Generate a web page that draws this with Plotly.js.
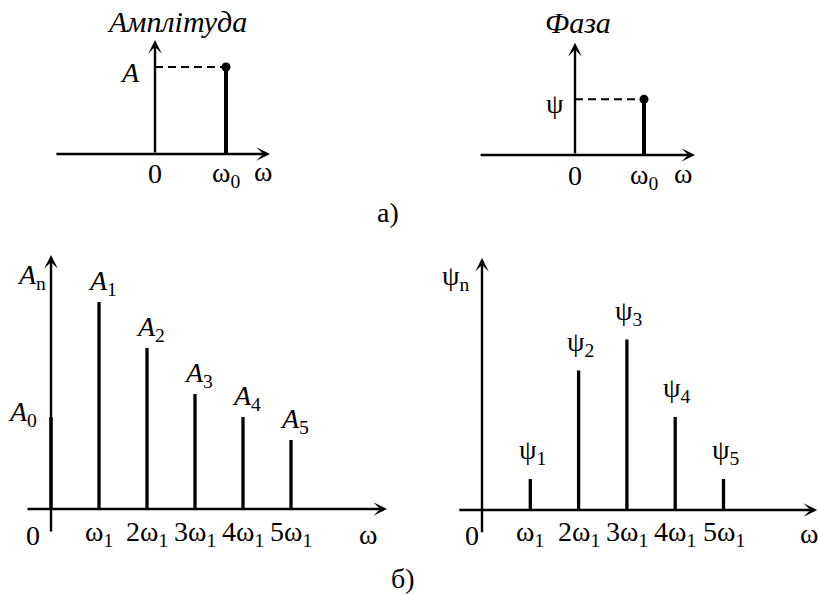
<!DOCTYPE html>
<html>
<head>
<meta charset="utf-8">
<script src="https://cdn.plot.ly/plotly-3.0.1.min.js"></script>
<style>
  html, body { margin: 0; padding: 0; background: #fff; }
  #chart { width: 818px; height: 595px; }
</style>
</head>
<body>
<div id="chart"></div>
<script>
// а) a single harmonic: amplitude and initial phase at ω0
const harmonicOmega = [1];
const harmonicAmp = [1];
const harmonicPhase = [0.64];
const singleTickLabels = ['0', 'ω<sub>0</sub>'];
const ampLabel = '<i>A</i>';
const phaseLabel = 'ψ';

// б) line spectrum of a periodic signal
const harmonicNumbers = [1, 2, 3, 4, 5];
const amplitudeA0 = [4];
const amplitudes = [9, 7, 5, 4, 3];
const phases = [1, 4.5, 5.5, 3, 1];
const freqLabels = ['ω<sub>1</sub>', '2ω<sub>1</sub>', '3ω<sub>1</sub>', '4ω<sub>1</sub>', '5ω<sub>1</sub>'];
const ampLabels = ['<i>A</i><sub>1</sub>', '<i>A</i><sub>2</sub>', '<i>A</i><sub>3</sub>', '<i>A</i><sub>4</sub>', '<i>A</i><sub>5</sub>'];
const phaseLabels = ['ψ<sub>1</sub>', 'ψ<sub>2</sub>', 'ψ<sub>3</sub>', 'ψ<sub>4</sub>', 'ψ<sub>5</sub>'];

const W = 818, H = 595;
const FONT = 'Liberation Serif';
const FS = 28;
const INK = '#000';

// Axis pair for one panel: pixel box, pixel origin and pixels per unit
function frame(px0, px1, py0, py1, ox, oy, sx, sy, id) {
  const common = { showgrid: false, zeroline: false, showticklabels: false, showline: false,
                   ticks: '', fixedrange: true };
  return {
    x: Object.assign({}, common, { domain: [px0 / W, px1 / W], range: [(px0 - ox) / sx, (px1 - ox) / sx], anchor: 'y' + id }),
    y: Object.assign({}, common, { domain: [1 - py1 / H, 1 - py0 / H], range: [(oy - py1) / sy, (oy - py0) / sy], anchor: 'x' + id })
  };
}

const f1 = frame(0, 310, 0, 200, 155, 154, 71, 87, '');
const f2 = frame(410, 818, 0, 200, 575, 155, 69, 87, '2');
const f3 = frame(0, 409, 230, 595, 51, 509, 48, 23, '3');
const f4 = frame(410, 818, 230, 595, 482, 510, 48.3, 31, '4');

function stems(xs, ys) {
  const x = [], y = [];
  xs.forEach((v, i) => { x.push(v, v, null); y.push(0, ys[i], null); });
  return { x, y };
}

function stemTrace(xs, ys, w, xa, ya) {
  const s = stems(xs, ys);
  return { type: 'scatter', mode: 'lines', x: s.x, y: s.y, xaxis: xa, yaxis: ya,
           line: { color: INK, width: w }, hoverinfo: 'skip', showlegend: false };
}

const traces = [
  // amplitude of one harmonic
  stemTrace(harmonicOmega, harmonicAmp, 4, 'x', 'y'),
  { type: 'scatter', mode: 'lines', x: [0, harmonicOmega[0]], y: [harmonicAmp[0], harmonicAmp[0]],
    xaxis: 'x', yaxis: 'y', line: { color: INK, width: 2, dash: '8px,5px' }, showlegend: false, hoverinfo: 'skip' },
  { type: 'scatter', mode: 'markers', x: harmonicOmega, y: harmonicAmp, xaxis: 'x', yaxis: 'y',
    marker: { color: INK, size: 9 }, showlegend: false, hoverinfo: 'skip' },
  // phase of one harmonic
  stemTrace(harmonicOmega, harmonicPhase, 4, 'x2', 'y2'),
  { type: 'scatter', mode: 'lines', x: [0, harmonicOmega[0]], y: [harmonicPhase[0], harmonicPhase[0]],
    xaxis: 'x2', yaxis: 'y2', line: { color: INK, width: 2, dash: '8px,5px' }, showlegend: false, hoverinfo: 'skip' },
  { type: 'scatter', mode: 'markers', x: harmonicOmega, y: harmonicPhase, xaxis: 'x2', yaxis: 'y2',
    marker: { color: INK, size: 9 }, showlegend: false, hoverinfo: 'skip' },
  // amplitude spectrum
  stemTrace([0], amplitudeA0, 3.5, 'x3', 'y3'),
  stemTrace(harmonicNumbers, amplitudes, 3.3, 'x3', 'y3'),
  // phase spectrum
  stemTrace(harmonicNumbers, phases, 3.3, 'x4', 'y4')
];

const annotations = [];
const txt = (o) => annotations.push(Object.assign({ showarrow: false, xanchor: 'center', yanchor: 'middle',
  font: { family: FONT, size: FS, color: INK } }, o));
function arrow(id, x0, y0, x1, y1) {
  annotations.push({ xref: 'x' + id, yref: 'y' + id, axref: 'x' + id, ayref: 'y' + id,
    x: x1, y: y1, ax: x0, ay: y0, text: '', showarrow: true,
    arrowhead: 3, arrowsize: 0.95, arrowwidth: 2.4, arrowcolor: INK, standoff: 0, startstandoff: 0 });
}

// coordinate axes with arrowheads
arrow('', -1.41, 0, 1.62, 0);
arrow('', 0, 0, 0, 1.31);
arrow('2', -1.39, 0, 1.74, 0);
arrow('2', 0, 0, 0, 1.29);
arrow('3', -0.52, 0, 7.0, 0);
arrow('3', 0, -1.04, 0, 11.04);
arrow('4', -0.5, 0, 6.94, 0);
arrow('4', 0, -0.77, 0, 8.13);

// а) labels
txt({ xref: 'paper', yref: 'paper', x: 177 / W, y: 1 - 22 / H, text: '<i>Амплітуда</i>', font: { family: FONT, size: 30, color: INK } });
txt({ xref: 'paper', yref: 'paper', x: 578 / W, y: 1 - 23 / H, text: '<i>Фаза</i>', font: { family: FONT, size: 30, color: INK } });
txt({ xref: 'x', yref: 'y', x: 0, y: 0, yshift: -19, text: singleTickLabels[0] });
txt({ xref: 'x', yref: 'y', x: harmonicOmega[0], y: 0, yshift: -20, text: singleTickLabels[1] });
txt({ xref: 'x', yref: 'y', x: 1.52, y: 0, yshift: -17, text: 'ω' });
txt({ xref: 'x', yref: 'y', x: 0, y: harmonicAmp[0], xanchor: 'right', xshift: -13, yshift: -5, text: ampLabel });
txt({ xref: 'x2', yref: 'y2', x: 0, y: 0, yshift: -20, text: singleTickLabels[0] });
txt({ xref: 'x2', yref: 'y2', x: harmonicOmega[0], y: 0, yshift: -21, text: singleTickLabels[1] });
txt({ xref: 'x2', yref: 'y2', x: 1.57, y: 0, yshift: -18, text: 'ω' });
txt({ xref: 'x2', yref: 'y2', x: 0, y: harmonicPhase[0], xanchor: 'right', xshift: -9, yshift: -4, text: phaseLabel });
txt({ xref: 'paper', yref: 'paper', x: 388 / W, y: 1 - 212 / H, text: 'а)' });

// б) amplitude spectrum labels
txt({ xref: 'x3', yref: 'y3', x: 0, y: 10, xanchor: 'right', xshift: -3, yshift: 3, text: '<i>A</i><sub>n</sub>' });
txt({ xref: 'x3', yref: 'y3', x: 0, y: amplitudeA0[0], xanchor: 'right', xshift: -12, yshift: 4, text: '<i>A</i><sub>0</sub>' });
txt({ xref: 'x3', yref: 'y3', x: 0, y: 0, xshift: -18, yshift: -26, text: '0' });
txt({ xref: 'x3', yref: 'y3', x: 6.6, y: 0, yshift: -25, text: 'ω' });
harmonicNumbers.forEach((n, i) => {
  txt({ xref: 'x3', yref: 'y3', x: n, y: 0, yshift: -24, text: freqLabels[i] });
  txt({ xref: 'x3', yref: 'y3', x: n, y: amplitudes[i], yanchor: 'bottom', xshift: 3, yshift: 0, text: ampLabels[i] });
});

// б) phase spectrum labels
txt({ xref: 'x4', yref: 'y4', x: 0, y: 7.5, xanchor: 'right', xshift: -10, text: 'ψ<sub>n</sub>' });
txt({ xref: 'x4', yref: 'y4', x: 0, y: 0, xshift: -10, yshift: -25, text: '0' });
txt({ xref: 'x4', yref: 'y4', x: 6.76, y: 0, yshift: -23, text: 'ω' });
harmonicNumbers.forEach((n, i) => {
  txt({ xref: 'x4', yref: 'y4', x: n, y: 0, yshift: -23, text: freqLabels[i] });
  txt({ xref: 'x4', yref: 'y4', x: n, y: phases[i], yanchor: 'bottom', xshift: 2, yshift: 8, text: phaseLabels[i] });
});

txt({ xref: 'paper', yref: 'paper', x: 403 / W, y: 0, yanchor: 'bottom', yshift: -1, text: 'б)' });

const layout = {
  width: W, height: H,
  margin: { l: 0, r: 0, t: 0, b: 0 },
  paper_bgcolor: '#fff', plot_bgcolor: 'rgba(0,0,0,0)',
  showlegend: false,
  font: { family: FONT, size: FS, color: INK },
  xaxis: f1.x, yaxis: f1.y,
  xaxis2: f2.x, yaxis2: f2.y,
  xaxis3: f3.x, yaxis3: f3.y,
  xaxis4: f4.x, yaxis4: f4.y,
  annotations: annotations
};

Plotly.newPlot('chart', traces, layout, { staticPlot: true, displayModeBar: false });
</script>
</body>
</html>
